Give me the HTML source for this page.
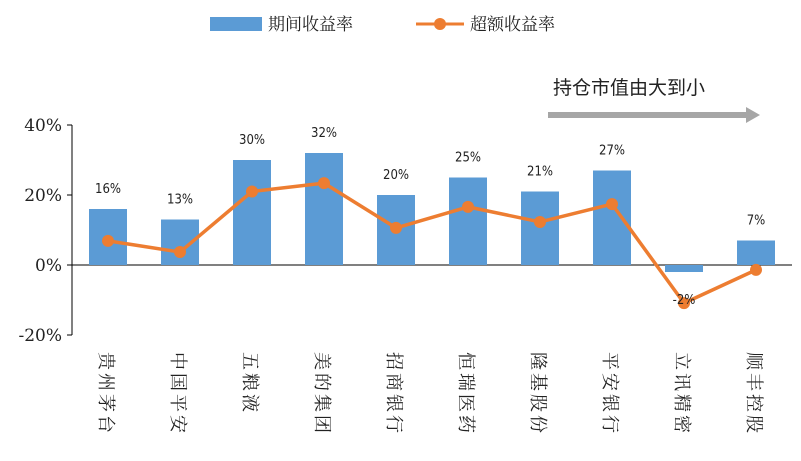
<!DOCTYPE html>
<html><head><meta charset="utf-8">
<style>
body{margin:0;background:#fff;}
svg{font-family:"Liberation Sans","Noto Serif CJK SC",serif;}
</style></head>
<body>
<svg id="chart" width="801" height="456" xmlns="http://www.w3.org/2000/svg">
<g>
  <rect x="210" y="17" width="52" height="14" fill="#5b9bd5"/>
  <text x="268" y="30" font-size="17" fill="#222" style="font-family:'Noto Serif CJK SC',serif">期间收益率</text>
  <line x1="416" y1="24" x2="464" y2="24" stroke="#ed7d31" stroke-width="3"/>
  <circle cx="440" cy="24" r="6" fill="#ed7d31"/>
  <text x="470" y="30" font-size="17" fill="#222" style="font-family:'Noto Serif CJK SC',serif">超额收益率</text>
</g>
<text x="553" y="94" font-size="19" fill="#222" style="font-family:'Noto Sans CJK SC',sans-serif">持仓市值由大到小</text>
<g>
  <rect x="548" y="112" width="200" height="6" fill="#a6a6a6"/>
  <polygon points="746,107 760,115 746,123" fill="#a6a6a6"/>
</g>
<g id="axes"></g>
<g id="bars"></g>
<g id="line"></g>
<g id="labels"></g>
</svg>
<script>
const categories=["贵州茅台","中国平安","五粮液","美的集团","招商银行","恒瑞医药","隆基股份","平安银行","立讯精密","顺丰控股"];
const periodReturn=[16,13,30,32,20,25,21,27,-2,7];
const excessReturn=[6.9,3.7,21,23.4,10.6,16.6,12.3,17.4,-10.9,-1.4];
const yTicks=[40,20,0,-20];
const NS="http://www.w3.org/2000/svg";
const y=v=>265-v*3.5;
const x=i=>108+i*72;
function mk(tag,attrs,parent,txt){const e=document.createElementNS(NS,tag);for(const k in attrs)e.setAttribute(k,attrs[k]);if(txt!==undefined)e.textContent=txt;parent.appendChild(e);return e;}
const axes=document.getElementById('axes');
let a=mk('line',{x1:72,y1:y(40),x2:72,y2:y(-20),stroke:'#000','stroke-width':1},axes);


a=mk('line',{x1:72,y1:y(0),x2:792,y2:y(0),stroke:'#000','stroke-width':1},axes);


yTicks.forEach(t=>{
  mk('line',{x1:67,y1:y(t),x2:72,y2:y(t),stroke:'#000'},axes);
  const tx=mk('text',{x:62,y:y(t)+6,'font-size':17,'text-anchor':'end',fill:'#222',style:"font-family:'DejaVu Serif',serif"},axes,t+'%');
  
  
});
const bars=document.getElementById('bars'),lab=document.getElementById('labels');
categories.forEach((c,i)=>{
  const v=periodReturn[i];
  const r=mk('rect',{x:x(i)-19,y:Math.min(y(v),y(0)),width:38,height:Math.abs(y(v)-y(0)),fill:'#5b9bd5'},bars);
  
  
  const t=mk('text',{x:x(i),y:(v>=0?y(v)-16:y(v)+32),'font-size':13,'text-anchor':'middle',fill:'#222',style:"font-family:'DejaVu Sans Condensed','Liberation Sans Narrow',sans-serif"},lab,v+'%');
  
  
  const ct=mk('text',{x:0,y:0,transform:'translate('+(x(i)-8)+',352) rotate(90)','font-size':18,fill:'#222','letter-spacing':'3',style:"font-family:'Noto Serif CJK SC',serif"},lab,c);
  
  
});
const lg=document.getElementById('line');
const p=mk('polyline',{points:excessReturn.map((v,i)=>x(i)+','+y(v)).join(' '),fill:'none',stroke:'#ed7d31','stroke-width':3.5,'stroke-linejoin':'round'},lg);


excessReturn.forEach((v,i)=>{
  const c=mk('circle',{cx:x(i),cy:y(v),r:6,fill:'#ed7d31'},lg);
  
  
});
</script>
</body></html>
